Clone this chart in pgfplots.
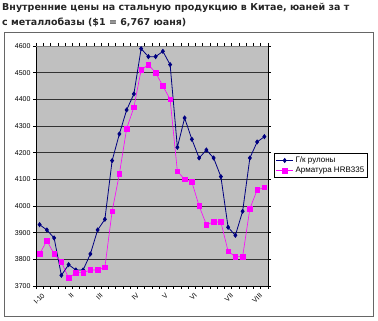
\documentclass[border=0pt]{standalone}
\usepackage{pgfplots}
\pgfplotsset{compat=1.18}
\usepackage{pgfplotstable}
\usepackage{fontspec}
\setmainfont{Liberation Sans}
\newfontfamily\tickfont[Kerning=Off,Ligatures=NoCommon]{Liberation Sans}
\newfontfamily\titlefont{DejaVu Sans}
\definecolor{navy}{HTML}{000080}
\definecolor{mag}{HTML}{FF00FF}
\definecolor{plotbg}{HTML}{C0C0C0}
\pgfplotstableread{
x hr rb
0 3930 3820
1 3910 3870
2 3880 3820
3 3740 3790
4 3780 3730
5 3760 3750
6 3760 3750
7 3820 3760
8 3910 3760
9 3950 3770
10 4170 3980
11 4270 4120
12 4360 4290
13 4420 4370
14 4590 4510
15 4560 4530
16 4560 4500
17 4580 4450
18 4530 4400
19 4220 4130
20 4330 4100
21 4250 4090
22 4180 4000
23 4210 3930
24 4180 3940
25 4110 3940
26 3920 3830
27 3890 3810
28 3980 3810
29 4180 3990
30 4240 4060
31 4260 4070
}\datatable
\begin{document}
\begin{tikzpicture}[x=1pt,y=1pt]
\path[use as bounding box, fill=white] (0,0) rectangle (378,321);
\draw[black!60, line width=0.8pt] (4.5,4.5) rectangle (373.5,288.5);
\node[anchor=north west, inner sep=0pt, align=left, text=black!85,
  font=\titlefont\bfseries\fontsize{9.5}{15.5}\selectfont] at (2,318)
  {Внутренние цены на стальную продукцию в Китае, юаней за т\\с металлобазы (\$1 = 6,767 юаня)};
\begin{axis}[
  at={(36pt,35pt)}, anchor=south west,
  scale only axis, width=232pt, height=240pt,
  xmin=-0.5, xmax=31.5, ymin=3700, ymax=4600,
  axis background/.style={fill=plotbg},
  axis line style={black, line width=0.7pt},
  ytick={3700,3800,...,4600},
  ymajorgrids, grid style={black!80, line width=0.7pt},
  xtick={0,4,8,13,17,21,26,30},
  xticklabels={I-10,II,III,IV,V,VI,VII,VIII},
  major x tick style={draw=none},
  minor xtick={-0.5,0.5,...,31.5}, minor tick length=3pt,
  tick align=outside, major tick length=3pt,
  tick style={black, line width=0.5pt},
  yticklabel style={font=\fontsize{7}{8}\selectfont, /pgf/number format/assume math mode=true, /pgf/number format/1000 sep={}, xshift=1pt},
  xticklabel style={rotate=45, anchor=north east, font=\tickfont\fontsize{7}{8}\selectfont, inner sep=1pt, yshift=-3pt},
  legend style={at={(1.026,0.45)}, anchor=south west, draw=black, line width=0.5pt,
    font=\fontsize{8}{9}\selectfont, inner sep=1.5pt, row sep=-1pt},
  legend cell align=left,
]
\addplot[navy, line width=0.8pt, mark=diamond*, mark size=2pt, mark options={fill=navy}] table[x=x, y=hr] {\datatable};
\addlegendentry{Г/к рулоны}
\addplot[mag, line width=0.6pt, mark=square*, mark size=2.2pt, mark options={fill=mag}] table[x=x, y=rb] {\datatable};
\addlegendentry{Арматура HRB335}
\draw[black!50, line width=0.7pt] (rel axis cs:0,1) -- (rel axis cs:1,1) -- (rel axis cs:1,0);
\end{axis}
\end{tikzpicture}
\end{document}
